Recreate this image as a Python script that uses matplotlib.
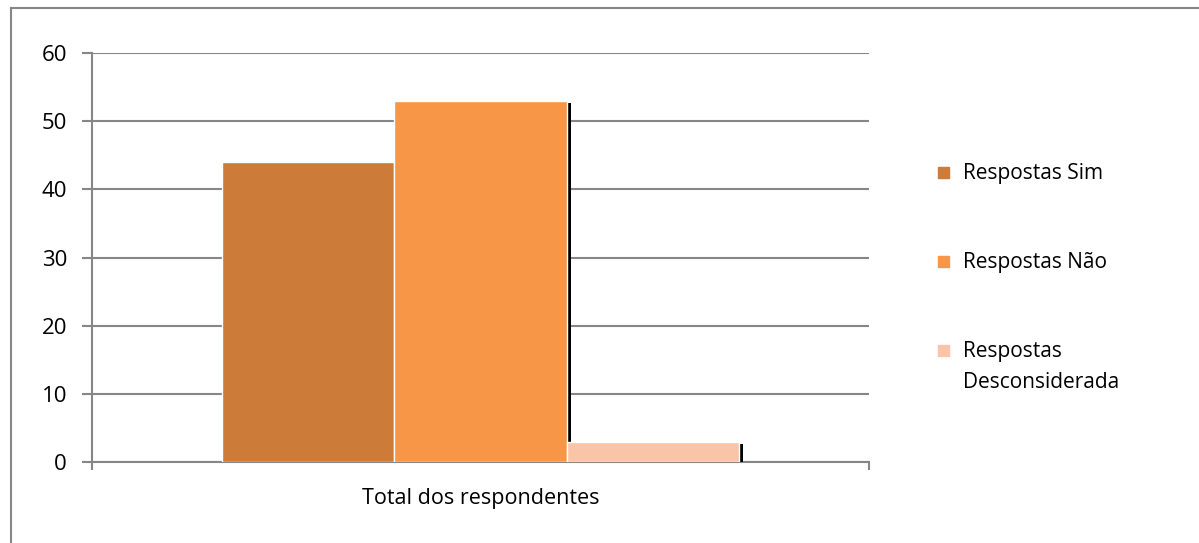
# Respostas por categoria - gráfico de barras com sombra
import matplotlib
matplotlib.use('Agg')
import matplotlib.pyplot as plt
import matplotlib.patheffects as pe
from matplotlib.patches import Rectangle
from matplotlib.lines import Line2D

plt.rcParams['font.family'] = ['Open Sans', 'DejaVu Sans']

# dados
categoria = 'Total dos respondentes'
series = ['Respostas Sim', 'Respostas Não', 'Respostas\nDesconsiderada']
valores = [44, 53, 3]
cores = ['#CC7B38', '#F79646', '#FAC4A8']

cinza = '#868686'

fig = plt.figure(figsize=(11.99, 5.43), dpi=100)
ax = fig.add_axes([92 / 1199, 1 - 462 / 543, 777 / 1199, 409 / 543])

largura = 0.2215
sombra = [pe.SimplePatchShadow(offset=(3, -2), shadow_rgbFace='black', alpha=1.0),
          pe.Normal()]
for i, (v, c) in enumerate(zip(valores, cores)):
    ax.bar((i - 1) * largura, v, largura, color=c, edgecolor='white',
           linewidth=1, path_effects=sombra, zorder=3)

# eixos
ax.set_xlim(-0.5, 0.5)
ax.set_ylim(0, 60)
ax.set_yticks(range(0, 61, 10))
ax.yaxis.grid(True, color=cinza, linewidth=1.5)
ax.set_axisbelow(True)
ax.tick_params(axis='y', length=7, width=1.5, color=cinza, labelsize=16, pad=11)

ax.set_xticks([-0.5, 0.5])
ax.set_xticklabels(['', ''])
ax.set_xticks([0], [categoria], minor=True)
ax.tick_params(axis='x', which='major', length=6, width=1.5, color=cinza)
ax.tick_params(axis='x', which='minor', length=0, labelsize=15.5, pad=19)

for s in ['top', 'right']:
    ax.spines[s].set_visible(False)
for s in ['left', 'bottom']:
    ax.spines[s].set_color(cinza)
    ax.spines[s].set_linewidth(1.5)

# legenda manual
legenda_y = [172, 261, 350]
for nome, cor, yp in zip(series, cores, legenda_y):
    fig.add_artist(Rectangle((938 / 1199, 1 - (yp + 5.5) / 543), 11 / 1199, 11 / 543,
                             transform=fig.transFigure, color=cor))
    fig.text(963 / 1199, 1 - (yp - 9) / 543, nome, fontsize=15, va='top',
             ha='left', linespacing=1.65)

# moldura externa
fig.add_artist(Line2D([11 / 1199, 11 / 1199], [0, 1 - 8 / 543],
                      transform=fig.transFigure, color=cinza, linewidth=1.5))
fig.add_artist(Line2D([11 / 1199, 1], [1 - 8 / 543, 1 - 8 / 543],
                      transform=fig.transFigure, color=cinza, linewidth=1.5))

fig.savefig('out.png', dpi=100)
